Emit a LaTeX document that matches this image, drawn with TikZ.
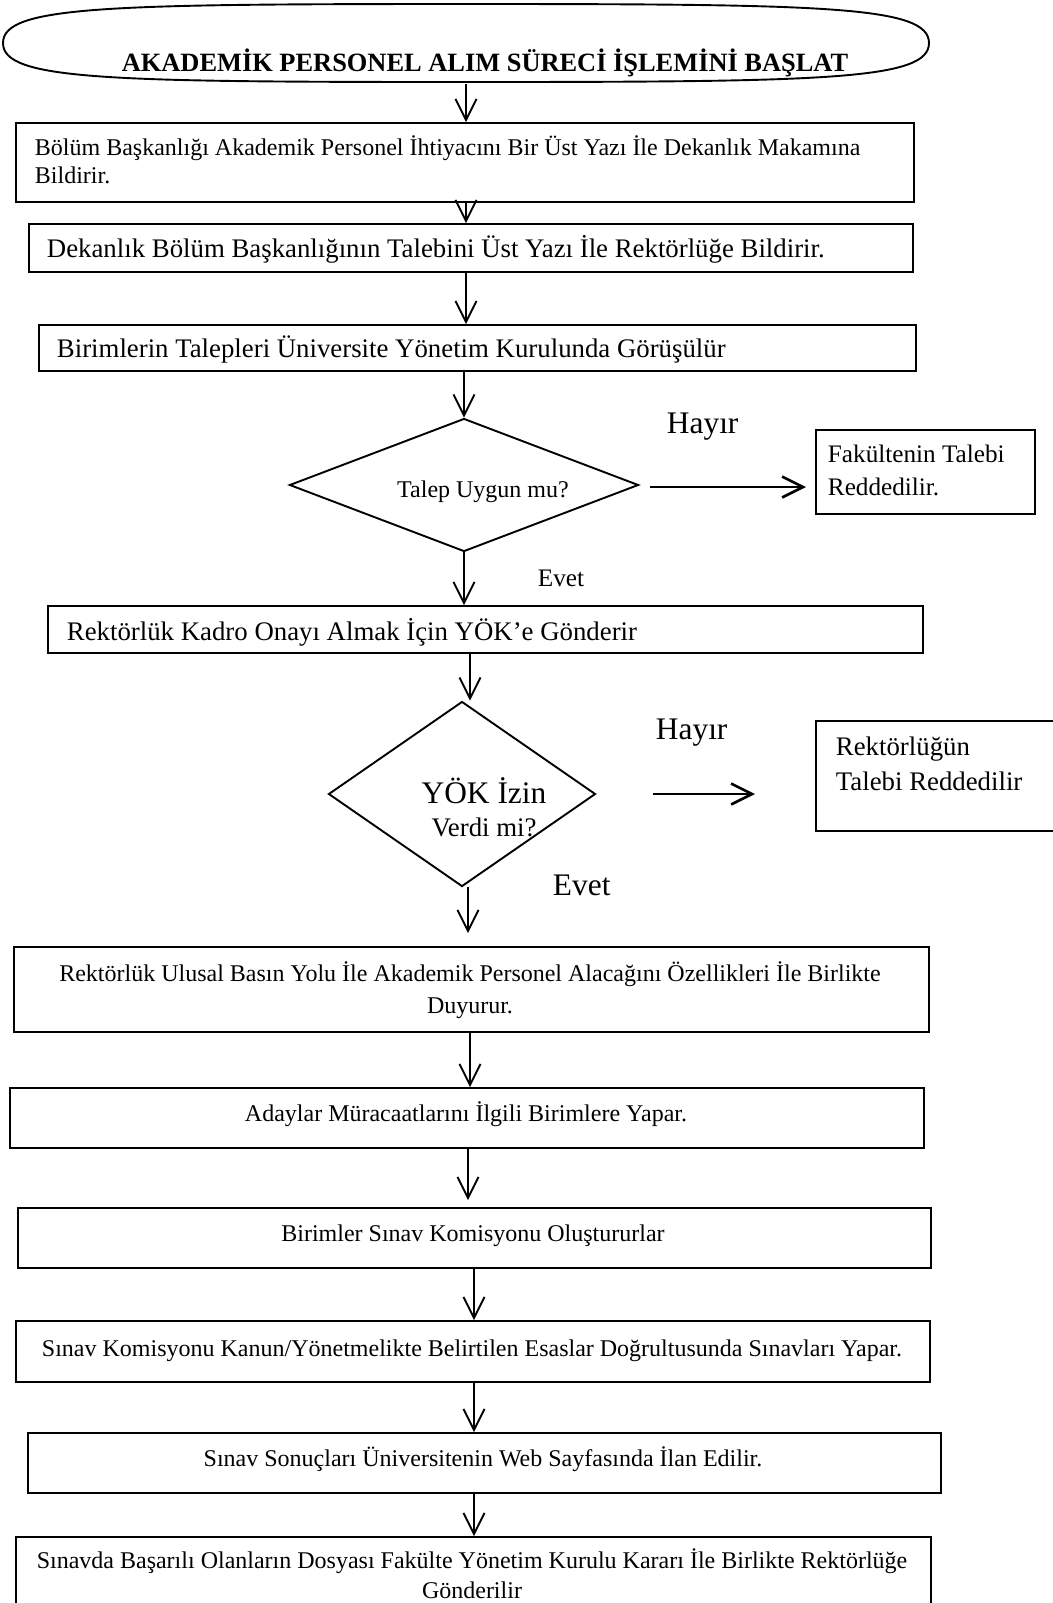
\documentclass[tikz,border=0pt]{standalone}
\usepackage{fontspec}
\setmainfont{Liberation Serif}
\usetikzlibrary{shapes.geometric, arrows.meta, calc}

\begin{document}
\begin{tikzpicture}[x=0.5pt, y=-0.5pt,
  line width=0.95pt,
  box/.style={draw, rectangle, inner sep=0pt, anchor=north west},
  dec/.style={draw, diamond, inner sep=0pt},
  arr/.style={-{Straight Barb[length=10.5pt,width=10.5pt]}},
  harr/.style={arr, line width=1.3pt},
  txtL/.style={font=\fontsize{13.4}{16}\selectfont},
  txtS/.style={font=\fontsize{12}{14.5}\selectfont},
  txtM/.style={font=\fontsize{12.6}{15}\selectfont},
  txtH/.style={font=\fontsize{15.7}{19}\selectfont},
  lbl/.style={inner sep=0pt, anchor=base west},
  clbl/.style={inner sep=0pt, anchor=base},
]
% page
\fill[white] (0,0) rectangle (1053,1603);
\useasboundingbox (0,0) rectangle (1053,1603);

% arrow columns
\coordinate (cA) at (466,0);
\coordinate (cC) at (470,0);
\coordinate (cD) at (468,0);
\coordinate (cE) at (474,0);

% start terminal: a flattened oval drawn around an invisible node
\node[inner sep=0pt, minimum width=463pt, minimum height=40pt] (start) at (466,43) {};
\draw (466,4) .. controls (826,4) and (929,6) .. (929,43)
      .. controls (929,80) and (826,82) .. (466,82)
      .. controls (106,82) and (3,80) .. (3,43)
      .. controls (3,6) and (106,4) .. (466,4) -- cycle;
\node[clbl, font=\bfseries\fontsize{13.2}{16}\selectfont] (ttl) at (485,71) {AKADEMİK PERSONEL ALIM SÜRECİ İŞLEMİNİ BAŞLAT};

% step 1
\node[box, minimum width=449pt, minimum height=39.5pt] (b1) at (15,122) {};
\node[lbl, txtS] (t1a) at (34,155) {Bölüm Başkanlığı Akademik Personel İhtiyacını Bir Üst Yazı İle Dekanlık Makamına};
\node[lbl, txtS] (t1b) at (34,183) {Bildirir.};

% step 2
\node[box, minimum width=442pt, minimum height=24pt] (b2) at (28,223) {};
\node[lbl, txtL] (t2) at (46,257) {Dekanlık Bölüm Başkanlığının Talebini Üst Yazı İle Rektörlüğe Bildirir.};

% step 3
\node[box, minimum width=438.5pt, minimum height=23pt] (b3) at (38,324) {};
\node[lbl, txtL] (t3) at (56,357) {Birimlerin Talepleri Üniversite Yönetim Kurulunda Görüşülür};

% decision 1
\node[dec, minimum width=174.5pt, minimum height=66.5pt] (d1) at (464,485) {};
\node[clbl, txtS] (q1) at (483,497) {Talep Uygun mu?};
\node[lbl, txtH] (no1) at (666,433) {Hayır};
\node[box, minimum width=109.5pt, minimum height=42pt] (rej1) at (815,429) {};
\node[lbl, txtM] (r1a) at (827,462) {Fakültenin Talebi};
\node[lbl, txtM] (r1b) at (827,495) {Reddedilir.};
\node[lbl, txtM] (yes1) at (537,586) {Evet};

% step 4
\node[box, minimum width=437.5pt, minimum height=23.5pt] (b4) at (47,605) {};
\node[lbl, txtL] (t4) at (66,640) {Rektörlük Kadro Onayı Almak İçin YÖK’e Gönderir};

% decision 2
\node[dec, minimum width=133.5pt, minimum height=92.5pt] (d2) at (462,794) {};
\node[clbl, txtH] (q2a) at (484,803) {YÖK İzin};
\node[clbl, txtL] (q2b) at (484,836) {Verdi mi?};
\node[lbl, txtH] (no2) at (655,739) {Hayır};
\node[box, minimum width=132.5pt, minimum height=55pt] (rej2) at (815,720) {};
\node[lbl, txtL] (r2a) at (835,755) {Rektörlüğün};
\node[lbl, txtL] (r2b) at (835,790) {Talebi Reddedilir};
\node[lbl, txtH] (yes2) at (552,895) {Evet};

% step 5
\node[box, minimum width=457.5pt, minimum height=42.5pt] (b5) at (13,946) {};
\node[clbl, txtS] (t5a) at (470,981) {Rektörlük Ulusal Basın Yolu İle Akademik Personel Alacağını Özellikleri İle Birlikte};
\node[clbl, txtS] (t5b) at (470,1013) {Duyurur.};

% step 6
\node[box, minimum width=457pt, minimum height=30pt] (b6) at (9,1087) {};
\node[clbl, txtS] (t6) at (466,1121) {Adaylar Müracaatlarını İlgili Birimlere Yapar.};

% step 7
\node[box, minimum width=456.5pt, minimum height=30pt] (b7) at (17,1207) {};
\node[clbl, txtS] (t7) at (473,1241) {Birimler Sınav Komisyonu Oluştururlar};

% step 8
\node[box, minimum width=457pt, minimum height=30.5pt] (b8) at (15,1320) {};
\node[clbl, txtS] (t8) at (472,1356) {Sınav Komisyonu Kanun/Yönetmelikte Belirtilen Esaslar Doğrultusunda Sınavları Yapar.};

% step 9
\node[box, minimum width=456.5pt, minimum height=30pt] (b9) at (27,1432) {};
\node[clbl, txtS] (t9) at (483,1466) {Sınav Sonuçları Üniversitenin Web Sayfasında İlan Edilir.};

% step 10
\node[box, minimum width=457.5pt, minimum height=45pt] (b10) at (15,1536) {};
\node[clbl, txtS] (t10a) at (472,1568) {Sınavda Başarılı Olanların Dosyası Fakülte Yönetim Kurulu Kararı İle Birlikte Rektörlüğe};
\node[clbl, txtS] (t10b) at (472,1598) {Gönderilir};

% connectors
\draw[arr] (start.south -| cA) -- (b1.north -| cA);
\draw[arr] (b1.south -| cA) -- (b2.north -| cA);
\draw[arr] (b2.south -| cA) -- (b3.north -| cA);
\draw[arr] (b3.south -| d1.north) -- (d1.north);
\draw[arr] (d1.south) -- (b4.north -| d1.south);
\draw[harr] ($(d1.east)+(11,2)$) -- ($(d1.east -| rej1.west)+(-9,2)$);
\draw[arr] (b4.south -| cC) -- (d2.north -| cC);
\draw[harr] ($(d2.east)+(57,0)$) -- ($(d2.east -| rej2.west)+(-60,0)$);
\draw[arr] (d2.south -| cD) -- ($(b5.north -| cD)+(0,-13)$);
\draw[arr] (b5.south -| cC) -- (b6.north -| cC);
\draw[arr] (b6.south -| cD) -- ($(b7.north -| cD)+(0,-7)$);
\draw[arr] (b7.south -| cE) -- (b8.north -| cE);
\draw[arr] (b8.south -| cE) -- (b9.north -| cE);
\draw[arr] (b9.south -| cE) -- (b10.north -| cE);
\end{tikzpicture}
\end{document}
